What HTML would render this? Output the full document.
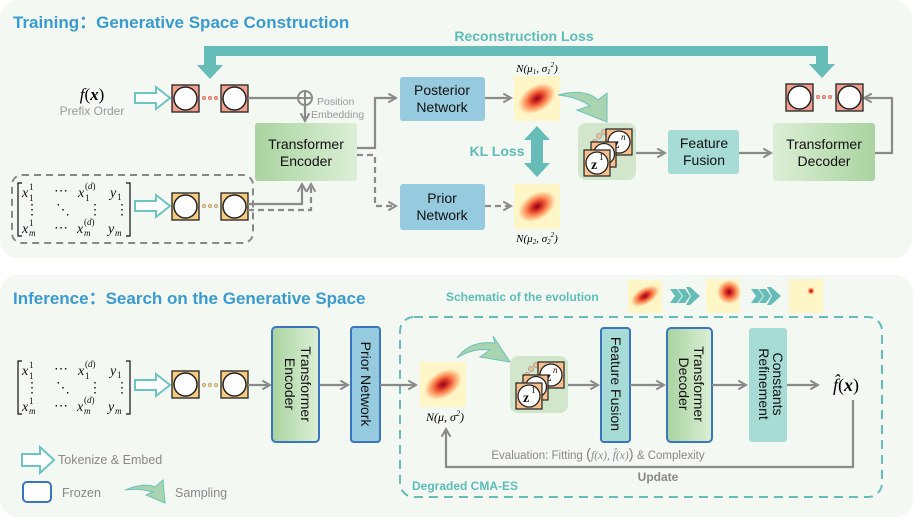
<!DOCTYPE html>
<html><head><meta charset="utf-8"><style>
html,body{margin:0;padding:0;background:#fff;}
svg{display:block;font-family:"Liberation Sans",sans-serif;}
.m{font-family:"Liberation Serif",serif;font-style:italic;font-size:14px;fill:#111;}
.ms{font-family:"Liberation Serif",serif;font-style:italic;font-size:9px;fill:#111;}
.bx{font-size:14px;fill:#111;text-anchor:middle;}
.g{fill:none;stroke:#8a8a8a;stroke-width:2.2;}
</style></head><body>
<svg width="914" height="517" viewBox="0 0 914 517" xmlns="http://www.w3.org/2000/svg">
<defs>
<linearGradient id="gr" x1="0" x2="1" y1="0" y2="0"><stop offset="0" stop-color="#a9d3a0"/><stop offset="1" stop-color="#dcefd6"/></linearGradient>
<linearGradient id="gr2" x1="0" x2="1" y1="0" y2="0"><stop offset="0" stop-color="#dcefd6"/><stop offset="1" stop-color="#a9d3a0"/></linearGradient>
<linearGradient id="grv" x1="0" x2="1" y1="0" y2="0"><stop offset="0" stop-color="#a9d3a0"/><stop offset="1" stop-color="#dcefd6"/></linearGradient>
<radialGradient id="hm"><stop offset="0" stop-color="#8c0024"/><stop offset="0.25" stop-color="#d7301f"/><stop offset="0.55" stop-color="#fc8d59"/><stop offset="0.8" stop-color="#fdd49e"/><stop offset="1" stop-color="#fff6c8" stop-opacity="0"/></radialGradient>
<marker id="ah" viewBox="0 0 10 10" refX="8" refY="5" markerWidth="5" markerHeight="5" orient="auto"><path d="M1,1 L8,5 L1,9" fill="none" stroke="#8a8a8a" stroke-width="1.8"/></marker>
<g id="heat"><rect x="0" y="0" width="46" height="45" fill="#fff6c8"/><ellipse cx="23" cy="22.5" rx="22" ry="14" fill="url(#hm)" transform="rotate(-32 23 22.5)"/></g>
<g id="tokO"><rect x="0" y="0" width="27" height="27" fill="#f0a08c" stroke="#222" stroke-width="1.3"/><circle cx="13.5" cy="13.5" r="11.5" fill="#fff" stroke="#222" stroke-width="1.5"/></g>
<g id="tokY"><rect x="0" y="0" width="27" height="27" fill="#f7cc80" stroke="#222" stroke-width="1.3"/><circle cx="13.5" cy="13.5" r="11.5" fill="#fff" stroke="#222" stroke-width="1.5"/></g>
<g id="zg">
<rect x="0" y="0" width="58" height="57" rx="8" fill="#d2e6cc"/>
<circle cx="17" cy="19" r="2.5" fill="#f5c090" stroke="#999" stroke-width="0.8"/><circle cx="21" cy="13" r="2.5" fill="#f5c090" stroke="#999" stroke-width="0.8"/><circle cx="26" cy="9" r="2.5" fill="#f5c090" stroke="#999" stroke-width="0.8"/>
<rect x="28" y="6" width="26" height="26" fill="#f7c08e" stroke="#222" stroke-width="1.2"/><circle cx="41" cy="19" r="11" fill="#fff" stroke="#222" stroke-width="1.3"/>
<text x="35" y="25" class="m" style="font-weight:bold;font-style:normal">z</text><text x="43" y="17" class="ms">n</text>
<rect x="13" y="19" width="25" height="25" fill="#f7c08e" stroke="#222" stroke-width="1.2"/><circle cx="26" cy="31" r="10.5" fill="#fff" stroke="#222" stroke-width="1.3"/>
<rect x="6" y="27" width="26" height="26" fill="#f7c08e" stroke="#222" stroke-width="1.2"/><circle cx="19" cy="40" r="11" fill="#fff" stroke="#222" stroke-width="1.3"/>
<text x="13" y="46" class="m" style="font-weight:bold;font-style:normal">z</text><text x="21" y="37" class="ms" style="font-style:normal">1</text>
</g>
<g id="mat">
<path d="M6,0 L2,0 L2,53 L6,53 M110,0 L114,0 L114,53 L110,53" fill="none" stroke="#111" stroke-width="1.2"/>
<text x="6" y="14" class="m">x</text><text x="13" y="7" class="ms" style="font-style:normal">1</text><text x="13" y="18" class="ms" style="font-style:normal">1</text>
<text x="38" y="12" class="m" style="font-style:normal">⋯</text>
<text x="62" y="14" class="m">x</text><text x="69" y="6" class="ms" style="font-style:normal">(<tspan font-style="italic">d</tspan>)</text><text x="69" y="18" class="ms" style="font-style:normal">1</text>
<text x="94" y="14" class="m">y</text><text x="101" y="17" class="ms" style="font-style:normal">1</text>
<text x="9" y="31" class="m" style="font-style:normal">⋮</text><text x="40" y="31" class="m" style="font-style:normal">⋱</text><text x="72" y="31" class="m" style="font-style:normal">⋮</text><text x="99" y="31" class="m" style="font-style:normal">⋮</text>
<text x="6" y="50" class="m">x</text><text x="13" y="43" class="ms" style="font-style:normal">1</text><text x="13" y="53" class="ms">m</text>
<text x="38" y="49" class="m" style="font-style:normal">⋯</text>
<text x="61" y="50" class="m">x</text><text x="68" y="42" class="ms" style="font-style:normal">(<tspan font-style="italic">d</tspan>)</text><text x="68" y="53" class="ms">m</text>
<text x="92" y="50" class="m">y</text><text x="99" y="53" class="ms">m</text>
</g>
</defs>

<rect x="0" y="0" width="912" height="258" rx="18" fill="#f3f8f2"/>
<rect x="0" y="275" width="913" height="242" rx="18" fill="#f3f8f2"/>

<text x="13" y="28" font-size="17" font-weight="bold" fill="#3a9bd0">Training：Generative Space Construction</text>
<text x="13" y="304" font-size="17" font-weight="bold" fill="#3a9bd0">Inference：Search on the Generative Space</text>

<text x="524" y="41" font-size="14" font-weight="bold" fill="#5dbdb8" text-anchor="middle">Reconstruction Loss</text>
<path d="M204,46 L828,46 L828,64 L835,64 L822,78 L809,64 L816,64 L816,56 L216,56 L216,65 L223,65 L210,79 L197,65 L204,65 Z" fill="#66bdb8"/>

<text x="92" y="100" font-family="Liberation Serif,serif" font-size="17" font-style="italic" text-anchor="middle">f<tspan font-style="normal">(</tspan><tspan font-weight="bold">x</tspan><tspan font-style="normal">)</tspan></text>
<text x="92" y="115" font-size="12" fill="#999" text-anchor="middle">Prefix Order</text>
<polygon points="135,93 156,93 156,87 170,98 156,109 156,103 135,103" fill="#fff" stroke="#6cc5c0" stroke-width="2"/>
<use href="#tokO" x="172" y="85"/><use href="#tokO" x="221" y="85"/>
<circle cx="204" cy="98" r="1.8" fill="#f5a58c" stroke="#c66" stroke-width="0.6"/><circle cx="210" cy="98" r="1.8" fill="#f5a58c" stroke="#c66" stroke-width="0.6"/><circle cx="216" cy="98" r="1.8" fill="#f5a58c" stroke="#c66" stroke-width="0.6"/>
<line x1="248" y1="98" x2="298" y2="98" class="g"/>
<circle cx="305" cy="98" r="7" fill="none" stroke="#8a8a8a" stroke-width="2"/><path d="M298,98 H312 M305,91 V105" stroke="#8a8a8a" stroke-width="2"/>
<line x1="305" y1="105" x2="305" y2="121" class="g" marker-end="url(#ah)"/>
<text x="317" y="105" font-size="10.5" fill="#999">Position</text>
<text x="311" y="118" font-size="10.5" fill="#999">Embedding</text>

<rect x="12" y="175" width="241" height="68" rx="10" fill="none" stroke="#888" stroke-width="2" stroke-dasharray="7,5"/>
<use href="#mat" x="16" y="183"/>
<polygon points="135,201 156,201 156,195 170,206 156,217 156,211 135,211" fill="#fff" stroke="#6cc5c0" stroke-width="2"/>
<use href="#tokY" x="172" y="193"/><use href="#tokY" x="221" y="193"/>
<circle cx="204" cy="206" r="1.8" fill="#f7cc80" stroke="#998" stroke-width="0.6"/><circle cx="210" cy="206" r="1.8" fill="#f7cc80" stroke="#998" stroke-width="0.6"/><circle cx="216" cy="206" r="1.8" fill="#f7cc80" stroke="#998" stroke-width="0.6"/>
<path d="M248,204 H302 V184" class="g" marker-end="url(#ah)"/>
<path d="M248,210 H311 V184" class="g" stroke-dasharray="6,4" marker-end="url(#ah)"/>

<rect x="255" y="123" width="102" height="58" rx="3" fill="url(#gr)"/>
<text x="306" y="149" class="bx">Transformer</text><text x="306" y="166" class="bx">Encoder</text>
<path d="M357,148 H375 V98 H396" class="g" marker-end="url(#ah)"/>
<path d="M357,155 H375 V206 H396" class="g" stroke-dasharray="6,4" marker-end="url(#ah)"/>
<rect x="400" y="77" width="85" height="44" rx="3" fill="#96cade"/>
<text x="442" y="95" class="bx">Posterior</text><text x="442" y="112" class="bx">Network</text>
<rect x="400" y="184" width="85" height="46" rx="3" fill="#96cade"/>
<text x="442" y="203" class="bx">Prior</text><text x="442" y="220" class="bx">Network</text>
<line x1="485" y1="98" x2="511" y2="98" class="g" marker-end="url(#ah)"/>
<line x1="485" y1="206" x2="511" y2="206" class="g" stroke-dasharray="6,4" marker-end="url(#ah)"/>
<use href="#heat" x="514" y="76"/><use href="#heat" x="514" y="184"/>
<text x="537" y="72" font-family="Liberation Serif,serif" font-size="11" font-style="italic" text-anchor="middle">N(μ<tspan font-size="7" dy="2">1</tspan><tspan dy="-2">, σ</tspan><tspan font-size="7" dy="2">1</tspan><tspan font-size="7" dy="-7">2</tspan><tspan dy="5">)</tspan></text>
<text x="537" y="242" font-family="Liberation Serif,serif" font-size="11" font-style="italic" text-anchor="middle">N(μ<tspan font-size="7" dy="2">2</tspan><tspan dy="-2">, σ</tspan><tspan font-size="7" dy="2">2</tspan><tspan font-size="7" dy="-7">2</tspan><tspan dy="5">)</tspan></text>
<text x="497" y="156" font-size="14" font-weight="bold" fill="#5dbdb8" text-anchor="middle">KL Loss</text>
<path d="M537,126 L550,140 L543,140 L543,163 L550,163 L537,177 L524,163 L531,163 L531,140 L524,140 Z" fill="#66bdb8"/>
<path d="M558,95 Q585,88 598,100 L607,93 L607,122 L577,110 L590,106 Q578,97 558,95 Z" fill="#a8d5b0" stroke="#6cc0bb" stroke-width="1"/>
<use href="#zg" x="578" y="123"/>
<line x1="636" y1="153" x2="665" y2="153" class="g" marker-end="url(#ah)"/>
<rect x="668" y="130" width="71" height="44" rx="3" fill="#a7dcd6"/>
<text x="704" y="148" class="bx">Feature</text><text x="704" y="165" class="bx">Fusion</text>
<line x1="739" y1="153" x2="771" y2="153" class="g" marker-end="url(#ah)"/>
<rect x="773" y="123" width="102" height="58" rx="3" fill="url(#gr2)"/>
<text x="824" y="149" class="bx">Transformer</text><text x="824" y="166" class="bx">Decoder</text>
<path d="M875,153 H892 V98 H864" class="g" marker-end="url(#ah)"/>
<use href="#tokO" x="786" y="84"/><use href="#tokO" x="836" y="84"/>
<circle cx="818" cy="97" r="1.8" fill="#f5a58c" stroke="#c66" stroke-width="0.6"/><circle cx="824" cy="97" r="1.8" fill="#f5a58c" stroke="#c66" stroke-width="0.6"/><circle cx="830" cy="97" r="1.8" fill="#f5a58c" stroke="#c66" stroke-width="0.6"/>

<text x="446" y="301" font-size="12" font-weight="bold" fill="#5dbdb8">Schematic of the evolution</text>
<rect x="628" y="280" width="34" height="33" fill="#fff6c8"/><ellipse cx="645" cy="296" rx="17" ry="9" fill="url(#hm)" transform="rotate(-30 645 296)"/>
<rect x="706" y="279" width="34" height="34" fill="#fff6c8"/><circle cx="729" cy="292" r="13" fill="url(#hm)"/>
<rect x="789" y="279" width="34" height="34" fill="#fff6c8"/><circle cx="811" cy="291" r="4" fill="url(#hm)"/>
<g fill="#66bdb8">
<path d="M670,289 L677,289 L682,296 L677,303 L670,303 L675,296Z M678,289 L685,289 L690,296 L685,303 L678,303 L683,296Z M686,287 L690,287 L700,296 L690,305 L686,305 L691,296Z"/>
<path d="M751,289 L758,289 L763,296 L758,303 L751,303 L756,296Z M759,289 L766,289 L771,296 L766,303 L759,303 L764,296Z M767,287 L771,287 L781,296 L771,305 L767,305 L772,296Z"/>
</g>
<rect x="400" y="317" width="482" height="180" rx="14" fill="none" stroke="#66bdb8" stroke-width="2" stroke-dasharray="9,6"/>
<use href="#mat" x="16" y="361"/>
<polygon points="135,380 156,380 156,374 170,385 156,396 156,390 135,390" fill="#fff" stroke="#6cc5c0" stroke-width="2"/>
<use href="#tokY" x="172" y="371"/><use href="#tokY" x="221" y="371"/>
<circle cx="204" cy="385" r="1.8" fill="#f7cc80" stroke="#998" stroke-width="0.6"/><circle cx="210" cy="385" r="1.8" fill="#f7cc80" stroke="#998" stroke-width="0.6"/><circle cx="216" cy="385" r="1.8" fill="#f7cc80" stroke="#998" stroke-width="0.6"/>
<line x1="248" y1="385" x2="270" y2="385" class="g" marker-end="url(#ah)"/>
<rect x="272" y="327" width="47" height="115" rx="4" fill="url(#grv)" stroke="#3a75c0" stroke-width="2"/>
<text transform="translate(301,384) rotate(90)" class="bx">Transformer</text>
<text transform="translate(285,384) rotate(90)" class="bx">Encoder</text>
<line x1="320" y1="385" x2="348" y2="385" class="g" marker-end="url(#ah)"/>
<rect x="351" y="327" width="29" height="115" rx="3" fill="#96cade" stroke="#3a75c0" stroke-width="2"/>
<text transform="translate(361,384) rotate(90)" class="bx">Prior Network</text>
<line x1="380" y1="385" x2="416" y2="385" class="g" marker-end="url(#ah)"/>
<use href="#heat" x="420" y="362"/>
<text x="445" y="421" font-family="Liberation Serif,serif" font-size="12" font-style="italic" text-anchor="middle">N(μ, σ<tspan font-size="8" dy="-5">2</tspan><tspan dy="5">)</tspan></text>
<path d="M457,358 Q470,340 495,343 L493,336 L510,362 L480,357 L490,350 Q472,348 457,358 Z" fill="#a8d5b0" stroke="#6cc0bb" stroke-width="1"/>
<use href="#zg" x="510" y="356"/>
<line x1="568" y1="385" x2="598" y2="385" class="g" marker-end="url(#ah)"/>
<rect x="601" y="328" width="29" height="114" rx="3" fill="#a7dcd6" stroke="#3a75c0" stroke-width="2"/>
<text transform="translate(611,384) rotate(90)" class="bx">Feature Fusion</text>
<line x1="630" y1="385" x2="664" y2="385" class="g" marker-end="url(#ah)"/>
<rect x="667" y="328" width="45" height="114" rx="4" fill="url(#grv)" stroke="#3a75c0" stroke-width="2"/>
<text transform="translate(694,384) rotate(90)" class="bx">Transformer</text>
<text transform="translate(679,384) rotate(90)" class="bx">Decoder</text>
<line x1="712" y1="385" x2="746" y2="385" class="g" marker-end="url(#ah)"/>
<rect x="749" y="328" width="38" height="114" rx="3" fill="#a7dcd6"/>
<text transform="translate(773,384) rotate(90)" class="bx">Constants</text>
<text transform="translate(759,384) rotate(90)" class="bx">Refinement</text>
<line x1="787" y1="385" x2="818" y2="385" class="g" marker-end="url(#ah)"/>
<text x="846" y="391" font-family="Liberation Serif,serif" font-size="18" font-style="italic" text-anchor="middle">f̂<tspan font-style="normal">(</tspan><tspan font-weight="bold">x</tspan><tspan font-style="normal">)</tspan></text>
<path d="M853,400 V467 H446 V429" class="g" marker-end="url(#ah)"/>
<text x="598" y="459" font-size="11.5" fill="#888" text-anchor="middle">Evaluation: Fitting <tspan font-size="15">(</tspan><tspan font-family="Liberation Serif,serif" font-style="italic">f(x), f̂(x)</tspan><tspan font-size="15">)</tspan> &amp; Complexity</text>
<text x="658" y="481" font-size="12" font-weight="bold" fill="#888" text-anchor="middle">Update</text>
<text x="412" y="490" font-size="12" font-weight="bold" fill="#5dbdb8">Degraded CMA-ES</text>

<polygon points="22,454 40,454 40,447 54,460 40,473 40,466 22,466" fill="#fff" stroke="#6cc5c0" stroke-width="2"/>
<text x="58" y="464" font-size="12.5" fill="#888">Tokenize &amp; Embed</text>
<rect x="23" y="482" width="28" height="20" rx="4" fill="#fff" stroke="#3a75c0" stroke-width="2"/>
<text x="62" y="497" font-size="12.5" fill="#888">Frozen</text>
<path d="M125,490 Q145,482 155,487 L163,480 L165,503 L146,495 L153,492 Q140,488 125,490 Z" fill="#a8d5b0" stroke="#6cc0bb" stroke-width="1"/>
<text x="175" y="497" font-size="12.5" fill="#888">Sampling</text>
</svg>
</body></html>
